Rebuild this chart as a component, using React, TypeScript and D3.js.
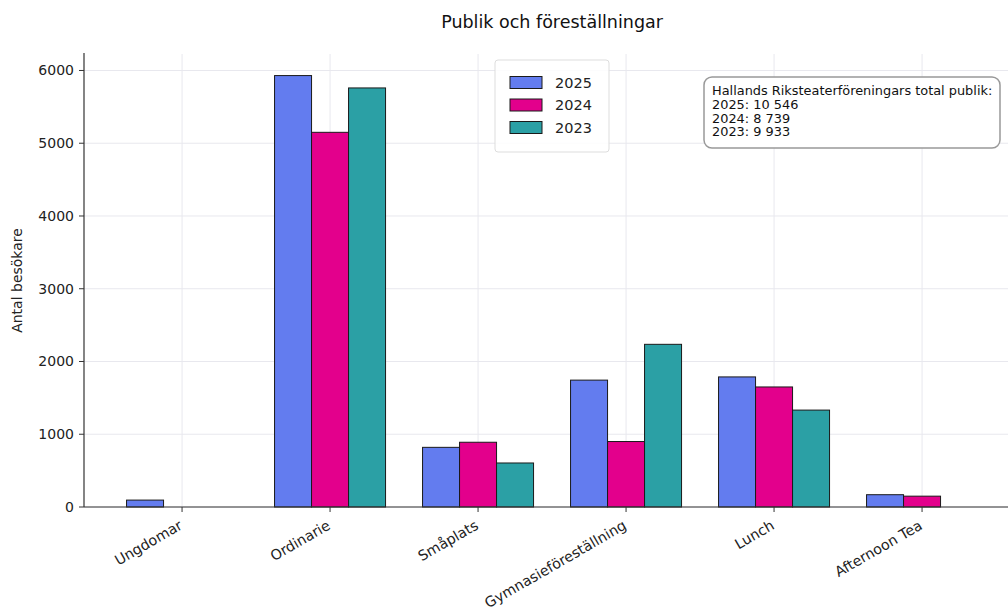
import React from 'react';
import * as d3 from 'd3';

// data
const categories = ['Ungdomar', 'Ordinarie', 'Småplats', 'Gymnasieföreställning', 'Lunch', 'Afternoon Tea'];
const years = ['2025', '2024', '2023'];
const values2025 = [95, 5930, 820, 1744, 1788, 169];
const values2024 = [0, 5150, 890, 900, 1650, 149];
const values2023 = [0, 5760, 605, 2236, 1332, 0];
const yTicks = [0, 1000, 2000, 3000, 4000, 5000, 6000];
const totalLines = [
  'Hallands Riksteaterföreningars total publik:',
  '2025: 10 546',
  '2024: 8 739',
  '2023: 9 933',
];

const series = [values2025, values2024, values2023];
const colors = ['#637cef', '#e3008c', '#2ba0a5'];

const W = 1008;
const H = 607;
const margin = { top: 54, left: 84, bottom: 100 };
const font = 'DejaVu Sans, sans-serif';
const barW = 0.25;

export default function App() {
  const yMax = d3.max(series.flat()) * 1.05;
  const pad = (categories.length - 1 + 3 * barW) * 0.05;
  const x = d3
    .scaleLinear()
    .domain([-1.5 * barW - pad, categories.length - 1 + 1.5 * barW + pad])
    .range([margin.left, margin.left + 6.325 * 148]);
  const y = d3.scaleLinear().domain([0, yMax]).range([H - margin.bottom, margin.top]);
  const y0 = y(0);

  return (
    <svg width={W} height={H} style={{ position: 'absolute', left: 0, top: 0, fontFamily: font }}>
      <rect width={W} height={H} fill="#fff" />

      {/* grid */}
      <g stroke="#e8e8ee" strokeWidth={1}>
        {yTicks.map((t) => (
          <line key={'h' + t} x1={margin.left} x2={W} y1={y(t)} y2={y(t)} />
        ))}
        {categories.map((c, i) => (
          <line key={'v' + c} x1={x(i)} x2={x(i)} y1={margin.top} y2={y0} />
        ))}
      </g>

      {/* bars */}
      {series.map((vals, s) => (
        <g key={years[s]} fill={colors[s]} stroke="#1a1a1a" strokeWidth={1}>
          {vals.map((v, i) => {
            const x1 = x(i + (s - 1) * barW - barW / 2);
            const x2 = x(i + (s - 1) * barW + barW / 2);
            return <rect key={i} x={x1} y={y(v)} width={x2 - x1} height={y0 - y(v)} />;
          })}
        </g>
      ))}

      {/* axes */}
      <line x1={margin.left} x2={margin.left} y1={margin.top - 1} y2={y0} stroke="#333" strokeWidth={1.2} />
      <line x1={margin.left} x2={W} y1={y0} y2={y0} stroke="#333" strokeWidth={1.2} />

      {yTicks.map((t) => (
        <g key={'yt' + t} transform={`translate(${margin.left},${y(t)})`}>
          <line x1={-5} x2={0} stroke="#333" />
          <text x={-10} dy="0.35em" textAnchor="end" fontSize={14} fill="#222">
            {t}
          </text>
        </g>
      ))}

      {categories.map((c, i) => (
        <g key={'xt' + c}>
          <line x1={x(i)} x2={x(i)} y1={y0} y2={y0 + 5} stroke="#333" />
          <text
            transform={`translate(${x(i) - 4},${y0 + 12}) rotate(-30)`}
            textAnchor="end"
            dy="0.75em"
            fontSize={14.3}
            fill="#222"
          >
            {c}
          </text>
        </g>
      ))}

      <text
        transform={`translate(22,${(margin.top + y0) / 2}) rotate(-90)`}
        textAnchor="middle"
        fontSize={14}
        fill="#222"
      >
        Antal besökare
      </text>

      <text x={(x.range()[0] + x.range()[1]) / 2} y={28} textAnchor="middle" fontSize={17.5} fill="#111">
        Publik och föreställningar
      </text>

      {/* legend */}
      <g transform="translate(495,60)">
        <rect width={114} height={92} rx={3} fill="#fff" fillOpacity={0.85} stroke="#dddddd" />
        {years.map((yr, s) => (
          <g key={yr} transform={`translate(15,${22.5 + s * 22.5})`}>
            <rect x={0} y={-6} width={32} height={12} fill={colors[s]} stroke="#1a1a1a" />
            <text x={45} dy="0.36em" fontSize={14.5} fill="#222">
              {yr}
            </text>
          </g>
        ))}
      </g>

      {/* totals box */}
      <g transform="translate(704,77)">
        <rect width={296} height={71} rx={8} fill="#fff" stroke="#999" strokeWidth={1.5} />
        {totalLines.map((l, k) => (
          <text key={k} x={8} y={18 + k * 13.8} fontSize={12.9} fill="#111">
            {l}
          </text>
        ))}
      </g>
    </svg>
  );
}
